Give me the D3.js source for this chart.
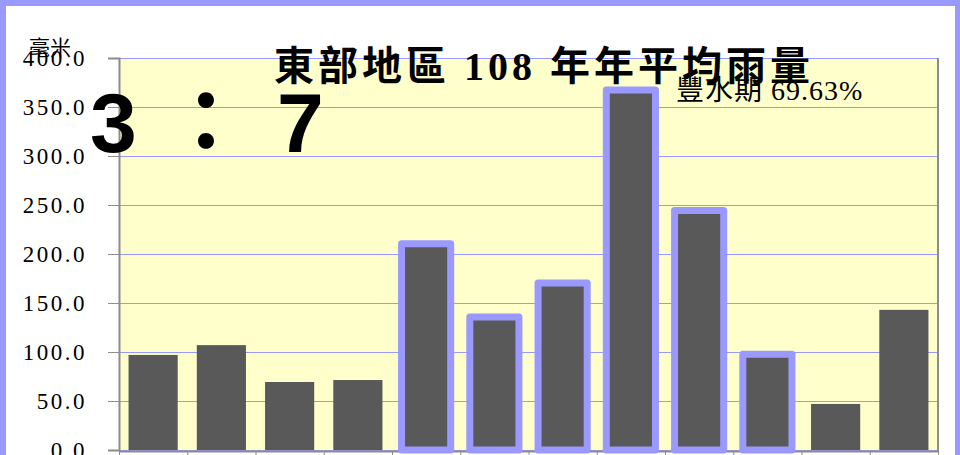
<!DOCTYPE html>
<html>
<head>
<meta charset="utf-8">
<script src="https://cdn.jsdelivr.net/npm/d3@7"></script>
<style>
  body { margin: 0; background: #fff; }
  svg { display: block; }
</style>
</head>
<body>
<script>
// data (mm)
const months = ["1月", "2月", "3月", "4月", "5月", "6月", "7月", "8月", "9月", "10月", "11月", "12月"];
const rainfall = [97, 107, 69.4, 71.4, 210.5, 135.7, 170.4, 367.3, 244.3, 97.7, 47, 143];
const wetMonths = ["5月", "6月", "7月", "8月", "9月", "10月"];
const yTicks = [0, 50, 100, 150, 200, 250, 300, 350, 400];
const titleText = "東部地區 108 年年平均雨量";
const unitText = "毫米";
const wetText = "豐水期 69.63%";
const ratioParts = ["3", "：", "7"];

var width = 960, height = 455;
var plot = {left: 119, right: 938, top: 58, bottom: 450};

var svg = d3.select("body").append("svg")
    .attr("width", width)
    .attr("height", height);

// outer frame
svg.append("rect")
    .attr("x", 3).attr("y", 3)
    .attr("width", 955).attr("height", 600)
    .attr("fill", "#fff")
    .attr("stroke", "#9999ff")
    .attr("stroke-width", 6);

let x = d3.scaleBand()
    .domain(months)
    .range([plot.left, plot.right])
    .paddingInner(0.28)
    .paddingOuter(0.14);

let xEdges = d3.scaleLinear()
    .domain([0, months.length])
    .range([plot.left, plot.right]);

let y = d3.scaleLinear()
    .domain([0, 400])
    .range([plot.bottom, plot.top]);

// plot background
svg.append("rect")
    .attr("x", plot.left).attr("y", plot.top)
    .attr("width", plot.right - plot.left)
    .attr("height", plot.bottom - plot.top)
    .attr("fill", "#ffffcc");

// grid lines
svg.append("g").selectAll("line").data(yTicks).enter().append("line")
    .attr("x1", plot.left).attr("x2", plot.right)
    .attr("y1", d => Math.round(y(d)) + 0.5)
    .attr("y2", d => Math.round(y(d)) + 0.5)
    .attr("stroke", "#9999ff")
    .attr("stroke-width", 1);

// right border
svg.append("line")
    .attr("x1", plot.right).attr("x2", plot.right)
    .attr("y1", plot.top).attr("y2", plot.bottom + 1)
    .attr("stroke", "#8c8c8c").attr("stroke-width", 2);

// y axis
let yAxis = svg.append("g")
    .attr("transform", "translate(" + plot.left + ",0)")
    .call(d3.axisLeft(y).tickValues(yTicks).tickSize(11).tickPadding(21)
        .tickFormat(d3.format(".1f")));
yAxis.selectAll("line").attr("stroke", "#8c8c8c");
yAxis.select(".domain").attr("stroke", "#8c8c8c").attr("stroke-width", 2);
yAxis.selectAll("text")
    .attr("fill", "#000")
    .style("font-family", "'Liberation Serif', serif")
    .style("font-size", "23px")
    .style("letter-spacing", "2.5px");

// x axis: ticks on the band edges
let xAxis = svg.append("g")
    .attr("transform", "translate(0," + (plot.bottom + 1) + ")")
    .call(d3.axisBottom(xEdges).tickValues(d3.range(months.length + 1))
        .tickSize(6).tickSizeOuter(0).tickFormat(""));
xAxis.selectAll("line").attr("stroke", "#8c8c8c");
xAxis.select(".domain").attr("stroke", "#8c8c8c").attr("stroke-width", 2);

// bars
svg.append("g").selectAll("rect").data(rainfall).enter().append("rect")
    .attr("x", (d, i) => x(months[i]))
    .attr("y", d => y(d))
    .attr("width", x.bandwidth())
    .attr("height", d => y(0) - y(d))
    .attr("fill", "#595959")
    .attr("stroke", (d, i) => wetMonths.includes(months[i]) ? "#9999ff" : "none")
    .attr("stroke-width", 7)
    .attr("stroke-linejoin", "round");

// unit label
svg.append("text")
    .attr("x", 29).attr("y", 55)
    .style("font-family", "'Noto Sans CJK TC', sans-serif")
    .style("font-size", "21px")
    .text(unitText);

// title
svg.append("text")
    .attr("x", 274).attr("y", 80)
    .style("font-family", "'Liberation Serif', 'Noto Sans CJK TC', serif")
    .style("font-size", "40px")
    .style("font-weight", "bold")
    .style("letter-spacing", "4px")
    .text(titleText);

// wet season share
svg.append("text")
    .attr("x", 676).attr("y", 100)
    .style("font-family", "'Liberation Serif', 'Noto Sans CJK TC', serif")
    .style("font-size", "28px")
    .style("letter-spacing", "1px")
    .text(wetText);

// big ratio
let ratio = svg.append("text")
    .attr("y", 152)
    .style("font-family", "'Liberation Sans', 'Noto Sans CJK TC', sans-serif")
    .style("font-size", "84px")
    .style("font-weight", "bold");
ratio.selectAll("tspan").data(ratioParts).enter().append("tspan")
    .attr("x", (d, i) => [90, 164, 277][i])
    .text(d => d);
</script>
</body>
</html>
